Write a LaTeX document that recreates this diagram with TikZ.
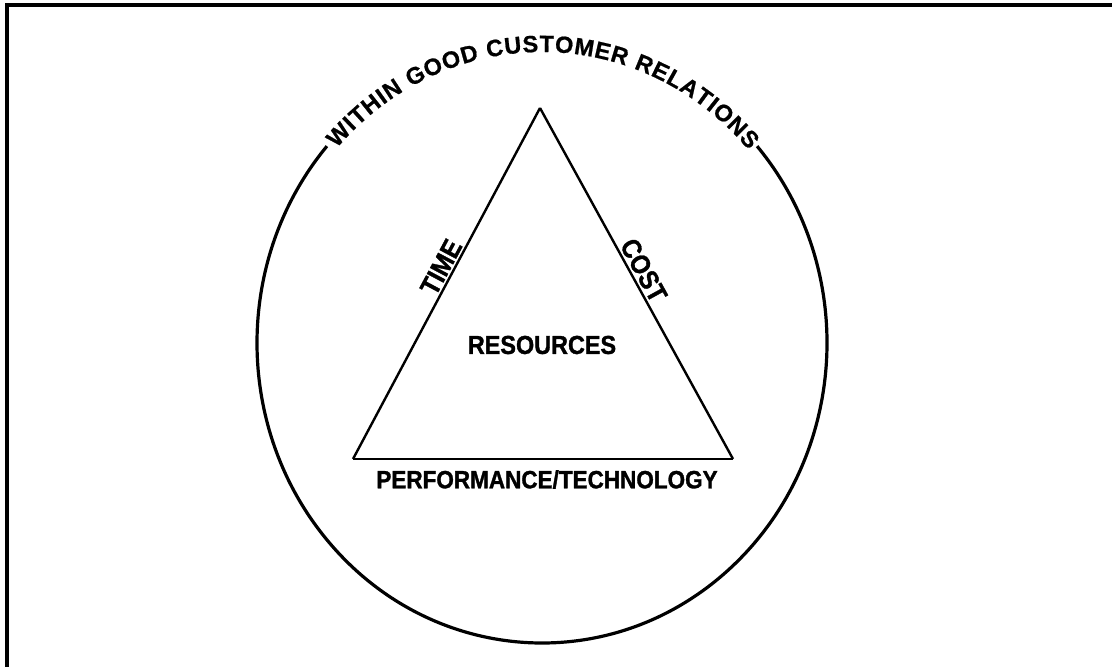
\documentclass[tikz,border=0pt]{standalone}
\usepackage{fontspec}
\usepackage{tikz}
\usetikzlibrary{positioning, decorations.text}
\newfontfamily\condfont{Liberation Sans Bold}[FakeStretch=0.9, FakeBold=1.2]
\newfontfamily\arcfont{Liberation Sans Bold}[FakeBold=0.8]

\begin{document}
\begin{tikzpicture}[x=1pt,y=1pt,
	frame/.style={line width=3.5pt},
	ring/.style={line width=3.2pt},
	side/.style={line width=2.4pt},
	lbl/.style={font=\condfont\fontsize{25}{25}\selectfont, inner sep=3pt},
	edgelbl/.style={lbl, font=\condfont\fontsize{27}{27}\selectfont, sloped, above, inner sep=2pt}]
	\useasboundingbox (0,0) rectangle (1112,667);
	\draw[frame] (7,0) -- (7,662) -- (1112,662);
	% the circle, open at the top for its text
	\coordinate (O) at (542,324);
	\draw[ring] ([shift={(41:285 and 300)}]O) arc[start angle=41, end angle=-221, x radius=285, y radius=300];
	\path[decorate, decoration={text along path, text align=fit to path, raise=-9pt,
		text={|\arcfont\fontsize{23.5}{24}\selectfont|WITHIN GOOD CUSTOMER RELATIONS}}]
		([shift={(138:285 and 300)}]O) arc[start angle=138, end angle=41.5, x radius=285, y radius=300];
	% triangle
	\coordinate (apex) at (540,559);
	\coordinate (bl) at (353,208);
	\coordinate (br) at (733,208);
	\draw[side] (bl) -- node[edgelbl, pos=0.53] (time) {TIME} (apex);
	\draw[side] (apex) -- node[edgelbl, pos=0.48] (cost) {COST} (br);
	\draw[side] (br) -- coordinate (base) (bl);
	\node[lbl, font=\condfont\fontsize{26}{26}\selectfont] (res) at (542,322) {RESOURCES};
	\node[lbl, below=8pt of base, xshift=4pt] (perf) {PERFORMANCE/TECHNOLOGY};
\end{tikzpicture}
\end{document}
